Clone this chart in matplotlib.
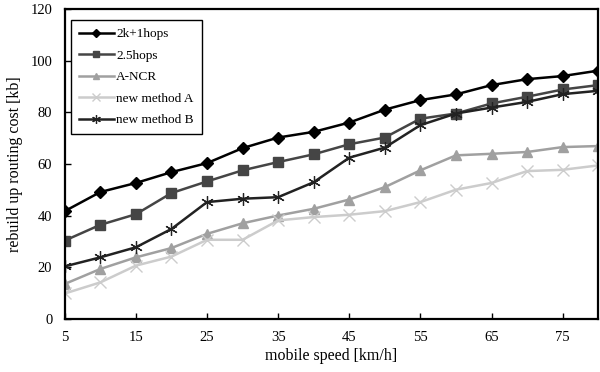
import matplotlib.pyplot as plt

speed = [5, 10, 15, 20, 25, 30, 35, 40, 45, 50, 55, 60, 65, 70, 75, 80]
hops_2k1 = [41.7, 49.1, 52.6, 56.8, 60.3, 66.1, 70.2, 72.4, 76.0, 81.0, 84.7, 86.9, 90.5, 92.8, 94.0, 96.1]
hops_25 = [30.3, 36.4, 40.5, 48.7, 53.2, 57.5, 60.7, 63.7, 67.6, 70.2, 77.5, 79.5, 83.4, 86.0, 88.8, 90.5]
ancr = [13.5, 19.3, 23.8, 27.4, 32.9, 37.0, 40.0, 42.6, 46.2, 51.0, 57.5, 63.3, 63.9, 64.6, 66.5, 66.9]
method_a = [9.8, 14.1, 20.6, 24.1, 30.6, 30.6, 38.1, 39.4, 40.3, 41.7, 45.2, 50.0, 52.6, 57.2, 57.7, 59.4]
method_b = [20.3, 23.8, 27.7, 34.8, 45.2, 46.5, 47.1, 52.9, 62.4, 66.3, 75.0, 79.5, 81.8, 84.0, 87.0, 88.3]

xticks = [5, 15, 25, 35, 45, 55, 65, 75]
yticks = [0, 20, 40, 60, 80, 100, 120]

plt.rcParams['font.family'] = ['Liberation Serif', 'DejaVu Serif']

fig = plt.figure(figsize=(6, 3.72), dpi=100)
ax = fig.add_axes([0.108, 0.143, 0.889, 0.833])

ax.plot(speed, hops_2k1, color='#000000', lw=1.8, marker='D', ms=6, label='2k+1hops')
ax.plot(speed, hops_25, color='#454545', lw=1.8, marker='s', ms=6.5, label='2.5hops')
ax.plot(speed, ancr, color='#a0a0a0', lw=1.8, marker='^', ms=7, label='A-NCR')
ax.plot(speed, method_a, color='#cccccc', lw=1.8, marker='x', ms=8, mew=1.0, label='new method A')
ax.plot(speed, method_b, color='#222222', lw=1.8, marker=(6, 2, 0), ms=9, mew=0.9, label='new method B')

ax.set_xlim(5, 80)
ax.set_ylim(0, 120)
ax.set_xticks(xticks)
ax.set_yticks(yticks)
ax.tick_params(direction='in', length=4, width=1, labelsize=10.5, top=False, right=False)
ax.tick_params(axis='x', pad=9)
ax.tick_params(axis='y', pad=9)
for s in ax.spines.values():
    s.set_linewidth(1.6)

ax.set_xlabel('mobile speed [km/h]', fontsize=11.5, labelpad=3)
ax.set_ylabel('rebuild up routing cost [kb]', fontsize=11.5, labelpad=5)

leg = ax.legend(loc='upper left', fontsize=9.5, frameon=True, fancybox=False,
                edgecolor='black', framealpha=1, handlelength=2.6, handletextpad=0.2,
                labelspacing=0.7, borderpad=0.6, markerscale=0.7,
                bbox_to_anchor=(0.0, 0.985))
leg.get_frame().set_linewidth(1.0)

fig.savefig('out.png', dpi=100)
